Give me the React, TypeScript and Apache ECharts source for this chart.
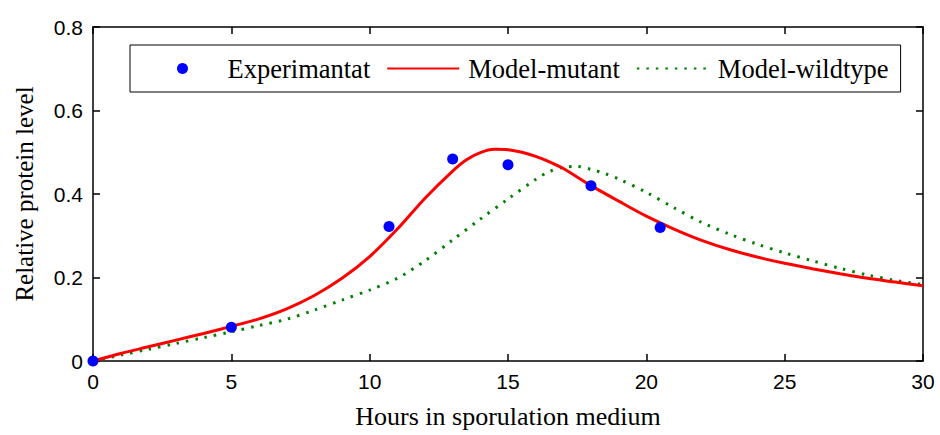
import React, { useEffect, useRef } from "react";
import * as echarts from "echarts";

const expHours = [0, 5, 10.7, 13, 15, 18, 20.5];
const expLevel = [0, 0.081, 0.322, 0.484, 0.47, 0.42, 0.32];

const mutantHours = [0, 1, 2, 3, 4, 5, 6, 7, 8, 9, 10, 11, 12, 13, 13.5, 14, 14.5, 15, 15.5, 16, 16.5, 17, 18, 19, 20, 21, 22, 23, 24, 25, 26, 27, 28, 29, 30];
const mutantLevel = [0, 0.018, 0.034, 0.05, 0.066, 0.083, 0.101, 0.125, 0.157, 0.198, 0.25, 0.316, 0.39, 0.455, 0.482, 0.499, 0.507, 0.506, 0.5, 0.49, 0.477, 0.461, 0.42, 0.383, 0.347, 0.316, 0.289, 0.267, 0.249, 0.234, 0.221, 0.209, 0.198, 0.189, 0.18];

const wildHours = [0, 1, 2, 3, 4, 5, 6, 7, 8, 9, 10, 11, 12, 13, 14, 15, 16, 16.5, 17, 17.5, 18, 18.5, 19, 20, 21, 22, 23, 24, 25, 26, 27, 28, 29, 30];
const wildLevel = [0, 0.014, 0.028, 0.042, 0.056, 0.07, 0.085, 0.1, 0.122, 0.146, 0.17, 0.198, 0.24, 0.29, 0.34, 0.388, 0.435, 0.454, 0.464, 0.466, 0.459, 0.449, 0.436, 0.404, 0.367, 0.332, 0.304, 0.28, 0.259, 0.24, 0.222, 0.206, 0.193, 0.183];

const xTicks = [0, 5, 10, 15, 20, 25, 30];
const yTicks = [0, 0.2, 0.4, 0.6, 0.8];

const seriesNames = ["Experimantat", "Model-mutant", "Model-wildtype"];

const zip = (a: number[], b: number[]) => a.map((v, i) => [v, b[i]]);

export default function App() {
  const ref = useRef<HTMLDivElement>(null);
  useEffect(() => {
    if (!ref.current) return;
    const chart = echarts.init(ref.current, undefined, { renderer: "svg" });
    const tickFont = { fontFamily: "Liberation Sans", fontSize: 21, color: "#000" };
    const serif = "Liberation Serif";
    const hiddenSymbol = { color: "transparent", opacity: 0, borderWidth: 0 };
    chart.setOption({
      animation: false,
      backgroundColor: "#fff",
      grid: { left: 93, right: 17, top: 27, bottom: 74, containLabel: false },
      legend: {
        left: 130,
        top: 45,
        padding: [10, 12, 10, 47],
        borderColor: "#000",
        borderWidth: 1,
        backgroundColor: "#fff",
        itemWidth: 72,
        itemHeight: 11,
        itemGap: 16,
        data: [
          { name: seriesNames[0] },
          { name: seriesNames[1], itemStyle: hiddenSymbol },
          { name: seriesNames[2], itemStyle: hiddenSymbol },
        ],
        textStyle: { fontFamily: serif, fontSize: 26.5, color: "#000", padding: [0, 0, 0, 4] },
      },
      xAxis: [
        {
          type: "value",
          min: 0,
          max: 30,
          interval: 5,
          position: "bottom",
          name: "Hours in sporulation medium",
          nameLocation: "middle",
          nameGap: 42,
          nameTextStyle: { fontFamily: serif, fontSize: 26, color: "#000" },
          axisLine: { show: true, lineStyle: { color: "#000", width: 1.5 } },
          axisTick: { show: true, inside: true, length: 7, lineStyle: { color: "#000", width: 1.5 } },
          axisLabel: { ...tickFont, margin: 10, formatter: (v: number) => (xTicks.includes(v) ? String(v) : "") },
          splitLine: { show: false },
        },
        {
          type: "value",
          min: 0,
          max: 30,
          interval: 5,
          position: "top",
          axisLine: { show: true, onZero: false, lineStyle: { color: "#000", width: 1.5 } },
          axisTick: { show: true, inside: true, length: 7, lineStyle: { color: "#000", width: 1.5 } },
          axisLabel: { show: false },
          splitLine: { show: false },
        },
      ],
      yAxis: [
        {
          type: "value",
          min: 0,
          max: 0.8,
          interval: 0.2,
          position: "left",
          name: "Relative protein level",
          nameLocation: "middle",
          nameGap: 56,
          nameTextStyle: { fontFamily: serif, fontSize: 25, color: "#000" },
          axisLine: { show: true, lineStyle: { color: "#000", width: 1.5 } },
          axisTick: { show: true, inside: true, length: 7, lineStyle: { color: "#000", width: 1.5 } },
          axisLabel: {
            ...tickFont,
            margin: 10,
            formatter: (v: number) => {
              const t = yTicks.find((y) => Math.abs(y - v) < 1e-6);
              return t === undefined ? "" : t === 0 ? "0" : t.toFixed(1);
            },
          },
          splitLine: { show: false },
        },
        {
          type: "value",
          min: 0,
          max: 0.8,
          interval: 0.2,
          position: "right",
          axisLine: { show: true, onZero: false, lineStyle: { color: "#000", width: 1.5 } },
          axisTick: { show: true, inside: true, length: 7, lineStyle: { color: "#000", width: 1.5 } },
          axisLabel: { show: false },
          splitLine: { show: false },
        },
      ],
      series: [
        {
          name: seriesNames[1],
          type: "line",
          xAxisIndex: 0,
          yAxisIndex: 0,
          data: zip(mutantHours, mutantLevel),
          smooth: 0.3,
          symbol: "none",
          lineStyle: { color: "#ff0000", width: 3 },
          itemStyle: { color: "#ff0000" },
          z: 3,
        },
        {
          name: seriesNames[2],
          type: "line",
          xAxisIndex: 0,
          yAxisIndex: 0,
          data: zip(wildHours, wildLevel),
          smooth: 0.3,
          symbol: "none",
          lineStyle: { color: "#008000", width: 3, type: [2.5, 7] },
          itemStyle: { color: "#008000" },
          z: 2,
        },
        {
          name: seriesNames[0],
          type: "scatter",
          xAxisIndex: 0,
          yAxisIndex: 0,
          data: zip(expHours, expLevel),
          symbol: "circle",
          symbolSize: 11,
          itemStyle: { color: "#0000ff", opacity: 1 },
          z: 4,
        },
      ],
    });
    return () => chart.dispose();
  }, []);
  return (
    <div
      ref={ref}
      style={{ position: "fixed", left: 0, top: 0, width: 940, height: 435, background: "#fff" }}
    />
  );
}
